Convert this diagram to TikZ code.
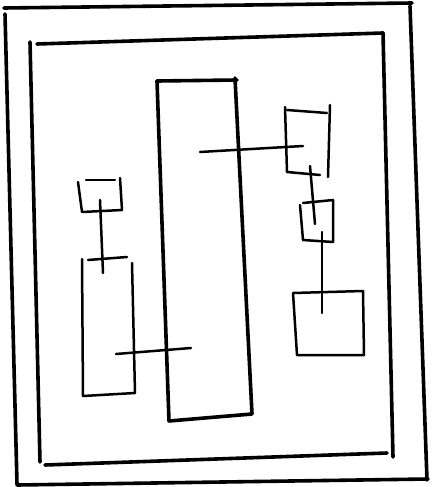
\documentclass[tikz,border=0pt]{standalone}
\begin{document}
\begin{tikzpicture}[x=1pt,y=-1pt,
  heavy/.style={line width=3.6pt,line cap=round,line join=round},
  thin2/.style={line width=2.5pt,line cap=round,line join=round}]
\useasboundingbox (0,0) rectangle (431,487);
\fill[white] (0,0) rectangle (431,487);
% outer frame
\draw[heavy] (4,8) -- (412,3);
\draw[heavy] (5,14) -- (17,484);
\draw[heavy] (410,6) -- (427,480);
\draw[heavy] (17,485) -- (428,479);
% inner frame
\draw[heavy] (37,44) -- (383,33);
\draw[heavy] (30,42) -- (40,462);
\draw[heavy] (383,33) -- (393,457);
\draw[heavy] (45,465) -- (387,453);
% big central box
\draw[heavy] (157,81) -- (237,80);
\draw[heavy] (157,81) -- (169,421) -- (252,414) -- (235,78);
% right top box
\draw[thin2] (287,110) -- (327,113);
\draw[thin2] (285,107) -- (287,172) -- (320,175);
\draw[thin2] (330,105) -- (328,177);
% right small box
\draw[thin2] (300,205) -- (303,240) -- (333,242) -- (333,200) -- (303,203);
% right bottom box
\draw[thin2] (293,293) -- (363,291) -- (364,355) -- (297,355) -- (293,293);
% left top box
\draw[thin2] (86,180) -- (115,180);
\draw[thin2] (78,182) -- (82,212) -- (122,210) -- (120,178);
% left tall box
\draw[thin2] (88,260) -- (127,257);
\draw[thin2] (82,259) -- (83,396) -- (135,393) -- (132,263);
% connectors
\draw[thin2] (200,152) -- (303,146);
\draw[thin2] (310,166) -- (315,224);
\draw[thin2] (322,232) -- (322,313);
\draw[thin2] (100,200) -- (103,273);
\draw[thin2] (116,354) -- (191,348);
\end{tikzpicture}
\end{document}
